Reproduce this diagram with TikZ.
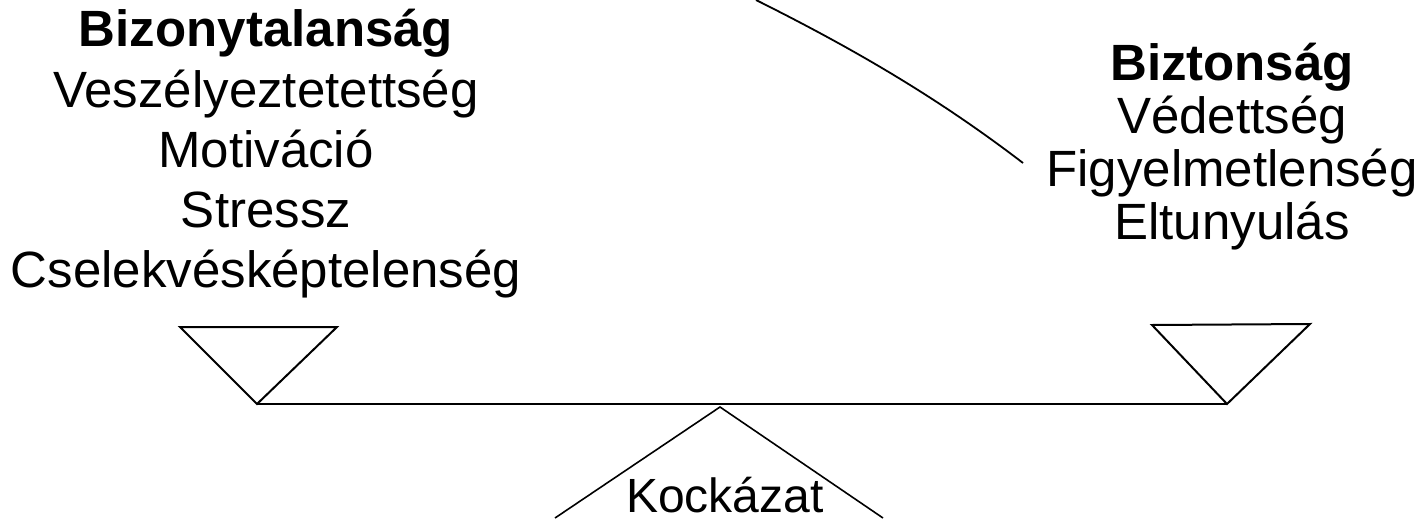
\documentclass[tikz,border=0pt]{standalone}
\usepackage{fontspec}
\setmainfont{Liberation Sans}
\usepackage{tikz}
\usetikzlibrary{arrows}

\begin{document}
\begin{tikzpicture}[x=1pt,y=1pt]
\tikzset{word/.style={anchor=base,inner sep=0pt,font=\fontsize{25.5}{30}\selectfont},
  head/.style={word,font=\fontsize{25.5}{30}\selectfont\bfseries},
  beam/.style={line width=1pt}}
\useasboundingbox (0,0) rectangle (709.5,260.5);

% left pan: uncertainty
\node[head] (bizonytalansag) at (133,237) {Bizonytalanság};
\node[word] (veszely) at (133,207) {Veszélyeztetettség};
\node[word] (motivacio) at (133,177) {Motiváció};
\node[word] (stressz) at (133,147) {Stressz};
\node[word] (cselekves) at (133,117) {Cselekvésképtelenség};

% right pan: safety
\node[head] (biztonsag) at (616,220.5) {Biztonság};
\node[word] (vedettseg) at (616,194) {Védettség};
\node[word] (figyelmetlen) at (616,167.5) {Figyelmetlenség};
\node[word] (eltunyulas) at (616,141) {Eltunyulás};

\node[word,font=\fontsize{24}{28}\selectfont] (kockazat) at (362.5,4.5) {Kockázat};

\coordinate (lpanA) at (90,97);
\coordinate (lpanB) at (168.5,97);
\coordinate (lpanTip) at (128.5,58.5);
\coordinate (rpanA) at (576,98);
\coordinate (rpanB) at (655,98.5);
\coordinate (rpanTip) at (613.5,58.5);
\coordinate (pivot) at (360,57);
\coordinate (footL) at (277.5,1.5);
\coordinate (footR) at (441.5,1.5);
\coordinate (swingA) at (378,260.5);
\coordinate (swingB) at (511.5,179);

\draw[beam] (lpanA) -- (lpanB) -- (lpanTip) -- cycle;
\draw[beam] (rpanA) -- (rpanB) -- (rpanTip) -- cycle;
\draw[beam] (lpanTip) -- (rpanTip);
\draw[line width=0.8pt] (footL) -- (pivot) -- (footR);

%\draw (swingA) arc ...
\draw[line width=0.9pt] (swingA) .. controls (423,238) and (466.5,213.5) .. (swingB);

\end{tikzpicture}
\end{document}
